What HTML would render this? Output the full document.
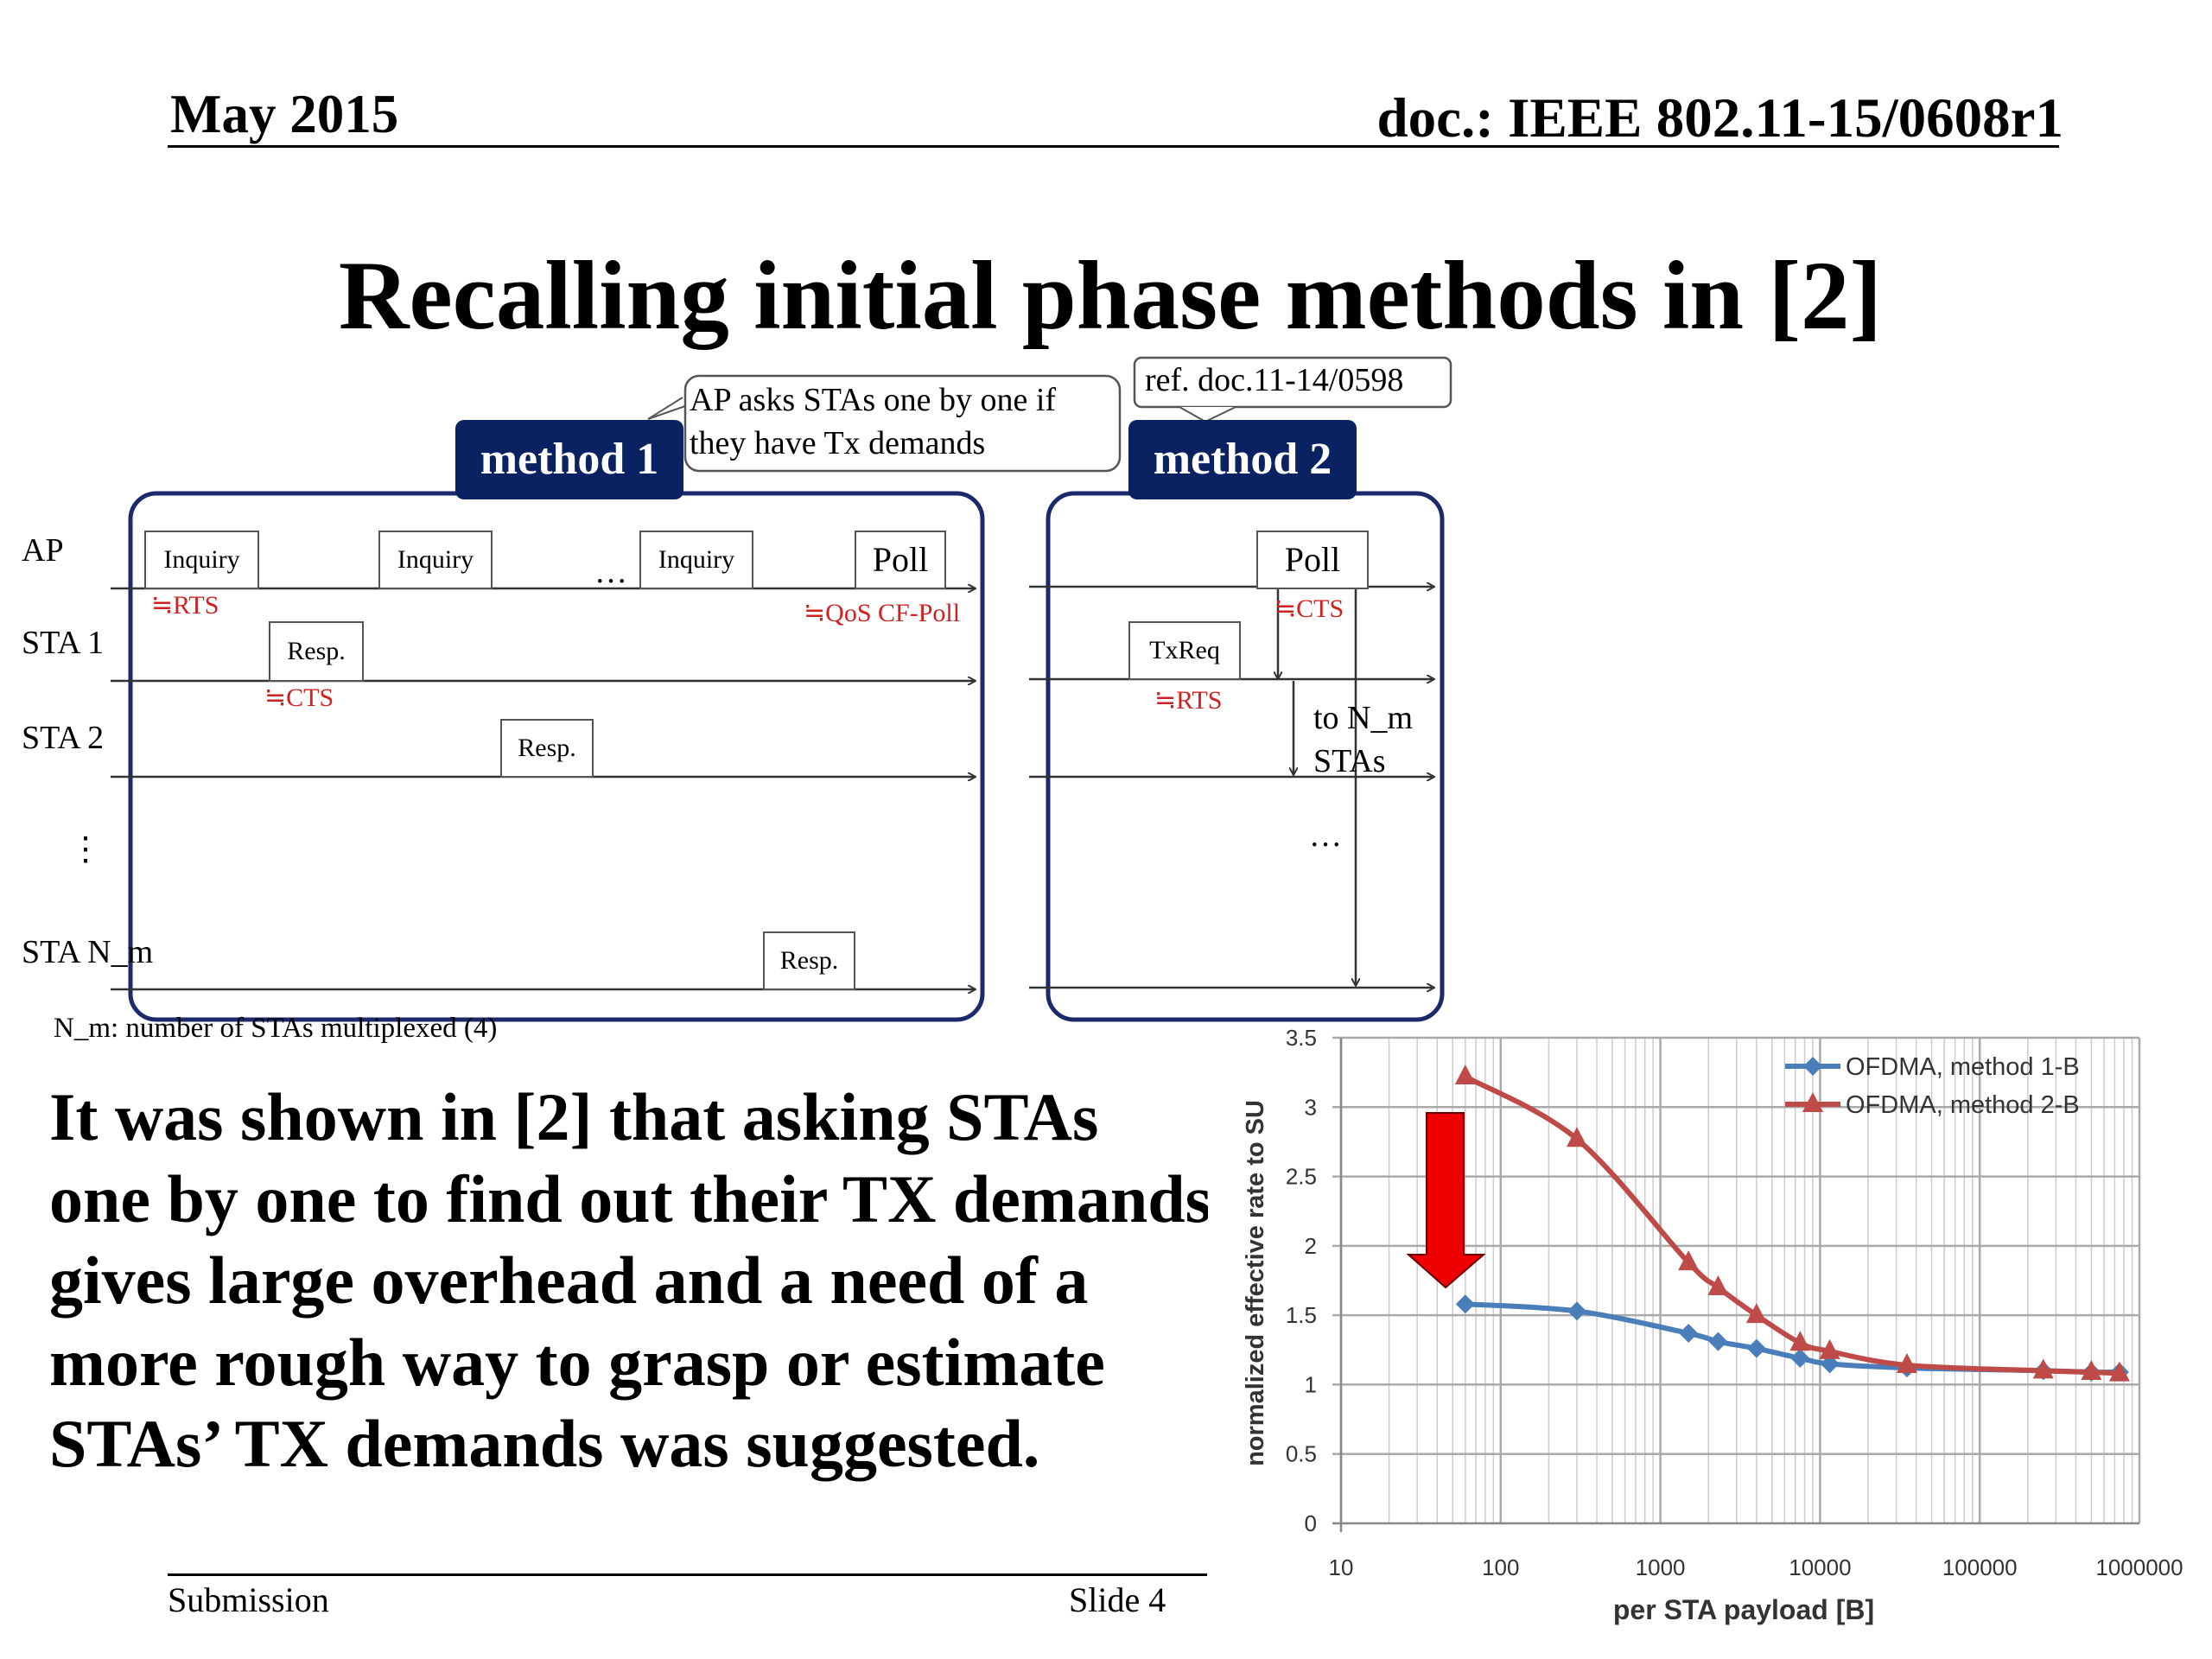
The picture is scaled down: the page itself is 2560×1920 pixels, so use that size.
<!DOCTYPE html>
<html><head><meta charset="utf-8"><style>
body{margin:0;width:2560px;height:1920px;background:#fff;position:relative;overflow:hidden;font-family:"Liberation Serif",serif;}
.a{position:absolute;}
.bx{position:absolute;border:2px solid #555;background:#fff;box-sizing:border-box;font-size:30px;text-align:center;}
.red{position:absolute;color:#d02020;font-size:30px;white-space:nowrap;}
.lbl{position:absolute;font-size:38px;white-space:nowrap;}
</style></head><body>
<div class="a" style="left:197px;top:96px;font-size:63px;font-weight:bold;">May 2015</div>
<div class="a" style="right:172px;top:100px;font-size:65px;font-weight:bold;">doc.: IEEE 802.11-15/0608r1</div>
<div class="a" style="left:194px;top:168px;width:2189px;height:3px;background:#000;"></div>
<div class="a" style="left:0;width:2570px;text-align:center;top:278px;font-size:113px;font-weight:bold;">Recalling initial phase methods in [2]</div>

<svg class="a" style="left:0;top:0" width="2560" height="1920">
<defs><marker id="ar" markerWidth="10" markerHeight="10" refX="9" refY="5" orient="auto" markerUnits="userSpaceOnUse"><path d="M0,0 L9,5 L0,10" fill="none" stroke="#333" stroke-width="2"/></marker></defs>
<rect x="151" y="571" width="986" height="609" rx="30" fill="none" stroke="#1c2a6b" stroke-width="5"/>
<rect x="1213" y="571" width="456" height="609" rx="30" fill="none" stroke="#1c2a6b" stroke-width="5"/>
<g stroke="#333" stroke-width="2.5" marker-end="url(#ar)">
<line x1="128" y1="681" x2="1129" y2="681"/><line x1="128" y1="788" x2="1129" y2="788"/><line x1="128" y1="899" x2="1129" y2="899"/><line x1="128" y1="1145" x2="1129" y2="1145"/>
<line x1="1191" y1="679" x2="1660" y2="679"/><line x1="1191" y1="786" x2="1660" y2="786"/><line x1="1191" y1="899" x2="1660" y2="899"/><line x1="1191" y1="1143" x2="1660" y2="1143"/>
<line x1="1479" y1="681" x2="1479" y2="786"/><line x1="1497" y1="788" x2="1497" y2="897"/><line x1="1569" y1="681" x2="1569" y2="1141"/>
</g>
<path d="M793,470 L750,485 L790,460" fill="#fff" stroke="#555" stroke-width="2"/>
<rect x="793" y="435" width="503" height="110" rx="16" fill="#fff" stroke="#555" stroke-width="2.5"/>
<rect x="1313" y="414" width="366" height="57" rx="8" fill="#fff" stroke="#555" stroke-width="2.5"/>
<path d="M1365,471 L1395,488 L1430,471" fill="#fff" stroke="#555" stroke-width="2"/>
</svg>
<div class="a" style="left:527px;top:486px;width:264px;height:92px;background:#0b2262;border-radius:10px;color:#fff;font-size:52px;font-weight:bold;text-align:center;line-height:92px;">method 1</div>
<div class="a" style="left:1306px;top:486px;width:264px;height:92px;background:#0b2262;border-radius:10px;color:#fff;font-size:52px;font-weight:bold;text-align:center;line-height:92px;">method 2</div>
<div class="a" style="left:798px;top:438px;font-size:38px;line-height:50px;">AP asks STAs one by one if<br>they have Tx demands</div>
<div class="a" style="left:1325px;top:418px;font-size:38px;">ref. doc.11-14/0598</div>

<div class="lbl" style="left:25px;top:615px;">AP</div>
<div class="lbl" style="left:25px;top:722px;">STA 1</div>
<div class="lbl" style="left:25px;top:832px;">STA 2</div>
<div class="lbl" style="left:80px;top:960px;">⋮</div>
<div class="lbl" style="left:25px;top:1080px;">STA N_m</div>

<div class="bx" style="left:167px;top:614px;width:133px;height:68px;line-height:64px;">Inquiry</div>
<div class="bx" style="left:438px;top:614px;width:132px;height:68px;line-height:64px;">Inquiry</div>
<div class="lbl" style="left:688px;top:640px;">…</div>
<div class="bx" style="left:740px;top:614px;width:132px;height:68px;line-height:64px;">Inquiry</div>
<div class="bx" style="left:989px;top:614px;width:106px;height:68px;line-height:64px;font-size:40px;">Poll</div>
<div class="bx" style="left:311px;top:719px;width:110px;height:70px;line-height:66px;">Resp.</div>
<div class="bx" style="left:579px;top:832px;width:108px;height:68px;line-height:64px;">Resp.</div>
<div class="bx" style="left:883px;top:1078px;width:107px;height:68px;line-height:64px;">Resp.</div>
<div class="red" style="left:175px;top:683px;">≒RTS</div>
<div class="red" style="left:930px;top:692px;">≒QoS CF-Poll</div>
<div class="red" style="left:306px;top:790px;">≒CTS</div>

<div class="bx" style="left:1454px;top:614px;width:130px;height:68px;line-height:64px;font-size:40px;">Poll</div>
<div class="bx" style="left:1306px;top:719px;width:130px;height:68px;line-height:64px;">TxReq</div>
<div class="red" style="left:1475px;top:687px;">≒CTS</div>
<div class="red" style="left:1336px;top:793px;">≒RTS</div>
<div class="lbl" style="left:1520px;top:806px;line-height:50px;">to N_m<br>STAs</div>
<div class="lbl" style="left:1515px;top:945px;">…</div>
<div class="a" style="left:62px;top:1172px;font-size:33px;">N_m: number of STAs multiplexed (4)</div>

<div class="a" style="left:57px;top:1246px;width:1341px;overflow:hidden;white-space:nowrap;font-size:78px;font-weight:bold;line-height:94.5px;">It was shown in [2] that asking STAs<br>one by one to find out their TX demands<br>gives large overhead and a need of a<br>more rough way to grasp or estimate<br>STAs’ TX demands was suggested.</div>

<div class="a" style="left:194px;top:1821px;width:1203px;height:3px;background:#000;"></div>
<div class="a" style="left:194px;top:1828px;font-size:40px;">Submission</div>
<div class="a" style="left:1237px;top:1828px;font-size:40px;">Slide 4</div>

<svg id="chart" class="a" style="left:0;top:0" width="2560" height="1920"></svg>
<script>
const xValues=[60,300,1500,2300,4000,7500,11500,35000,250000,500000,750000];
const series1=[1.58,1.53,1.37,1.31,1.26,1.19,1.15,1.12,1.10,1.09,1.09];
const series2=[3.22,2.77,1.88,1.70,1.50,1.30,1.24,1.14,1.10,1.09,1.08];
const yTicks=[0,0.5,1,1.5,2,2.5,3,3.5];
const xTickLabels=["10","100","1000","10000","100000","1000000"];
const seriesNames=["OFDMA, method 1-B","OFDMA, method 2-B"];
const L=1552,R=2476,T=1201,B=1763;
const sx=v=>L+(Math.log10(v)-1)/5*(R-L);
const sy=v=>B-v/3.5*(B-T);
const svg=document.getElementById('chart');const NS='http://www.w3.org/2000/svg';
function mk(t,a,p){const e=document.createElementNS(NS,t);for(const k in a)e.setAttribute(k,a[k]);(p||svg).appendChild(e);return e;}
for(let d=1;d<6;d++)for(let m=1;m<10;m++){const v=Math.pow(10,d)*m;const g=mk('line',{x1:sx(v),x2:sx(v),y1:T,y2:B,stroke:m==1?'#aaa':'#ccc','stroke-width':m==1?2.5:1.5});}
mk('line',{x1:R,x2:R,y1:T,y2:B,stroke:'#aaa','stroke-width':2.5});
yTicks.forEach(v=>{const g=mk('line',{x1:L-10,x2:R,y1:sy(v),y2:sy(v),stroke:v==0?'#888':'#aaa','stroke-width':2.5});
const t=mk('text',{x:L-28,y:sy(v)+9,'text-anchor':'end','font-size':26,'font-family':'Liberation Sans, sans-serif',fill:'#333'});t.textContent=v;});
mk('line',{x1:L,x2:L,y1:T,y2:B+10,stroke:'#888','stroke-width':2.5});
xTickLabels.forEach((s,i)=>{const v=Math.pow(10,i+1);const t=mk('text',{x:sx(v),y:1823,'text-anchor':'middle','font-size':26,'font-family':'Liberation Sans, sans-serif',fill:'#333'});t.textContent=s;});
let t=mk('text',{x:2018,y:1874,'text-anchor':'middle','font-size':32,'font-weight':'bold','font-family':'Liberation Sans, sans-serif',fill:'#333'});t.textContent='per STA payload [B]';
t=mk('text',{x:0,y:0,'text-anchor':'middle','font-size':29,'font-weight':'bold','font-family':'Liberation Sans, sans-serif',fill:'#333',transform:'translate(1462,1485) rotate(-90)'});t.textContent='normalized effective rate to SU';
function smooth(pts){let d='M'+pts[0][0]+','+pts[0][1];for(let i=0;i<pts.length-1;i++){const p0=pts[i-1]||pts[i],p1=pts[i],p2=pts[i+1],p3=pts[i+2]||p2;d+=' C'+(p1[0]+(p2[0]-p0[0])/6)+','+(p1[1]+(p2[1]-p0[1])/6)+' '+(p2[0]-(p3[0]-p1[0])/6)+','+(p2[1]-(p3[1]-p1[1])/6)+' '+p2[0]+','+p2[1];}return d;}
const cols=['#4a7ebb','#be4b48'];
[series1,series2].forEach((s,si)=>{const pts=xValues.map((x,i)=>[sx(x),sy(s[i])]);
const p=mk('path',{d:smooth(pts),fill:'none',stroke:cols[si],'stroke-width':6});
pts.forEach(q=>{const m=si==0?mk('path',{d:`M${q[0]},${q[1]-11} L${q[0]+11},${q[1]} L${q[0]},${q[1]+11} L${q[0]-11},${q[1]}Z`,fill:cols[si]}):mk('path',{d:`M${q[0]},${q[1]-14} L${q[0]+12},${q[1]+9} L${q[0]-12},${q[1]+9}Z`,fill:cols[si]});});
const ly=1234+si*44;const ll=mk('line',{x1:2066,x2:2130,y1:ly,y2:ly,stroke:cols[si],'stroke-width':6});
const lm=si==0?mk('path',{d:`M2098,${ly-11} L2109,${ly} L2098,${ly+11} L2087,${ly}Z`,fill:cols[si]}):mk('path',{d:`M2098,${ly-14} L2110,${ly+9} L2086,${ly+9}Z`,fill:cols[si]});
const lt=mk('text',{x:2136,y:ly+10,'font-size':29,'font-family':'Liberation Sans, sans-serif',fill:'#333'});lt.textContent=seriesNames[si];});
const arrow=mk('path',{d:'M1651,1288 L1694,1288 L1694,1452 L1717,1452 L1673,1490 L1630,1452 L1651,1452Z',fill:'#ee0000',stroke:'#600',"stroke-width":2});

</script>
</body></html>
